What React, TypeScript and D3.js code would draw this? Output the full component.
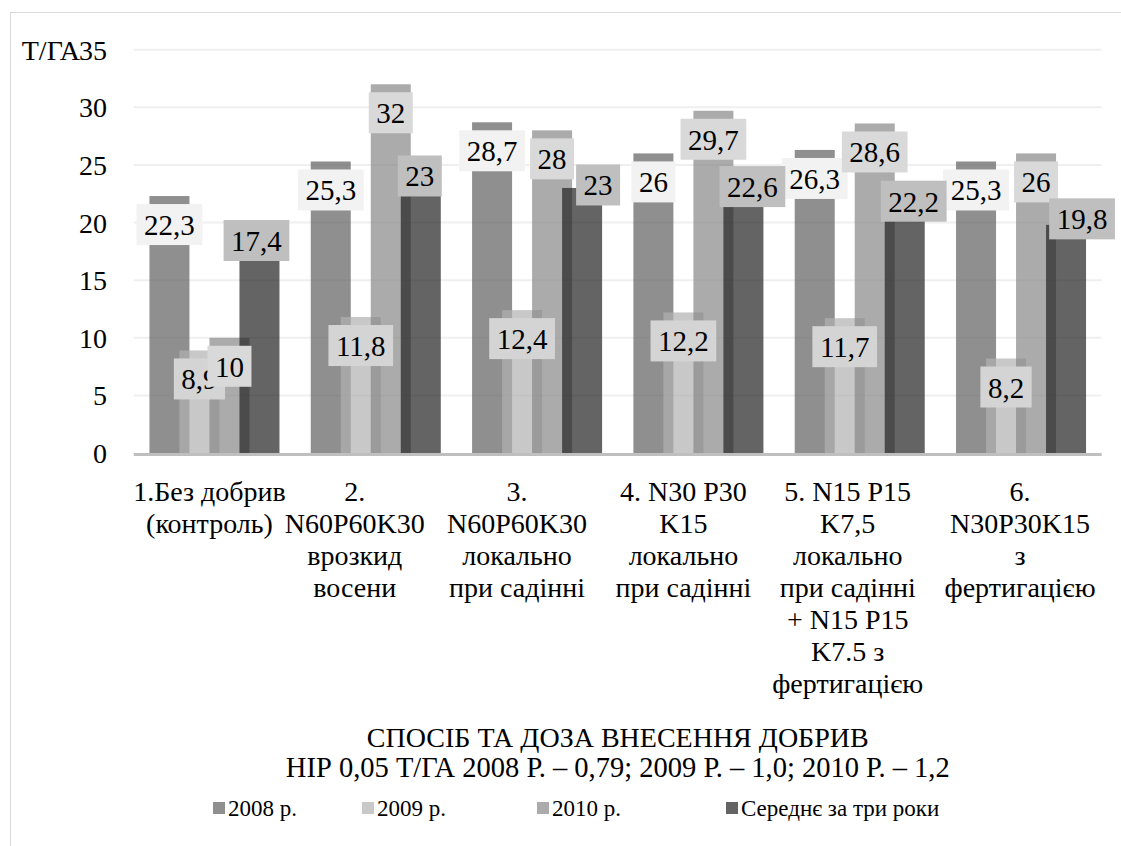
import React from 'react';
import * as d3 from 'd3';

const categories = [
  ['1.Без добрив', '(контроль)'],
  ['2.', 'N60P60K30', 'врозкид', 'восени'],
  ['3.', 'N60P60K30', 'локально', 'при садінні'],
  ['4. N30 P30', 'K15', 'локально', 'при садінні'],
  ['5. N15 P15', 'K7,5', 'локально', 'при садінні', '+ N15 P15', 'K7.5 з', 'фертигацією'],
  ['6.', 'N30P30K15', 'з', 'фертигацією'],
];

const seriesNames = ['2008 р.', '2009 р.', '2010 р.', 'Середнє за три роки'];
const y2008 = [22.3, 25.3, 28.7, 26, 26.3, 25.3];
const y2009 = [8.9, 11.8, 12.4, 12.2, 11.7, 8.2];
const y2010 = [10, 32, 28, 29.7, 28.6, 26];
const yAvg = [17.4, 23, 23, 22.6, 22.2, 19.8];
const yTicks = [0, 5, 10, 15, 20, 25, 30, 35];

const seriesValues = [y2008, y2009, y2010, yAvg];
// bars are drawn semi-transparent, so where they overlap a darker strip shows
const barColors = ['#5f5f5f', '#b0b0b0', '#888888', '#222222'];
const labelFills = ['#f2f2f2', '#d4d4d4', '#d9d9d9', '#bfbfbf'];
// category labels in the source sit a bit left of the band centres
const catShift = [-5, -21, -20, -15, -12, -1];
// the average labels were dragged by hand in the source (px nudges)
const avgNudgeX = [-3, -1, 16, 9, 9, 16];
const avgNudgeY = [-12, -12, -3, -6, 4, -6];
const legendX = [213, 362, 537, 726];

const FONT = 'Liberation Serif';

const measure = (() => {
  const ctx = document.createElement('canvas').getContext('2d');
  return (s: string, size: number) => {
    if (!ctx) return s.length * size * 0.5;
    ctx.font = `${size}px "Liberation Serif"`;
    return ctx.measureText(s).width;
  };
})();

const fmt = (v: number) => String(v).replace('.', ',');

const App = () => {
  const width = 1121;
  const height = 846;
  const x0 = 133.8;
  const x1 = 1101.7;

  const x = d3
    .scaleBand<number>()
    .domain(categories.map((_, i) => i))
    .range([x0, x1])
    .padding(0);
  const y = d3.scaleLinear().domain([0, 35]).range([453, 49.7]);

  const barW = x.bandwidth() * 0.248;
  const step = barW * 0.75;
  const groupW = step * 3 + barW;

  const barX = (c: number, s: number) =>
    (x(c) as number) + x.bandwidth() / 2 - groupW / 2 + s * step;

  const labelSize = 29;
  const boxH = 41;

  return (
    <div style={{ position: 'fixed', left: 0, top: 0, width, height, background: '#fff' }}>
      <svg width={width} height={height}>
        <rect x={10.5} y={12.5} width={1300} height={1000} fill="none" stroke="#d9d9d9" />

        {yTicks.slice(1).map((t) => (
          <line key={t} x1={x0} x2={x1} y1={y(t)} y2={y(t)} stroke="#efefef" strokeWidth={2} />
        ))}

        {yTicks.map((t) => (
          <text key={t} x={107} y={y(t) + 10} textAnchor="end" fontSize={28} fontFamily={FONT} fill="#000">
            {t}
          </text>
        ))}
        <text x={80} y={y(35) + 10} textAnchor="end" fontSize={28} fontFamily={FONT} fill="#000">
          Т/ГА
        </text>

        {seriesValues.map((vals, s) => (
          <g key={s}>
            {vals.map((v, c) => (
              <rect
                key={c}
                x={barX(c, s)}
                y={y(v)}
                width={barW}
                height={y(0) - y(v)}
                fill={barColors[s]}
                fillOpacity={0.7}
              />
            ))}
          </g>
        ))}

        <rect x={x0} y={y(0)} width={x1 - x0} height={3} fill="#bfbfbf" />

        {seriesValues.map((vals, s) => (
          <g key={s}>
            {vals.map((v, c) => {
              const txt = fmt(v);
              const w = measure(txt, labelSize) + 15;
              let cx = barX(c, s) + barW / 2;
              let top = y(v) + 8;
              if (s === 3) {
                cx += avgNudgeX[c];
                top = y(v) - boxH / 2 + avgNudgeY[c];
              }
              return (
                <g key={c}>
                  <rect x={cx - w / 2} y={top} width={w} height={boxH} fill={labelFills[s]} />
                  <text
                    x={cx}
                    y={top + 31}
                    textAnchor="middle"
                    fontSize={labelSize}
                    fontFamily={FONT}
                    fill="#000"
                  >
                    {txt}
                  </text>
                </g>
              );
            })}
          </g>
        ))}

        {categories.map((lines, c) => {
          const cx = (x(c) as number) + x.bandwidth() / 2 + catShift[c];
          return (
            <text key={c} x={cx} y={501} textAnchor="middle" fontSize={28} fontFamily={FONT} fill="#000">
              {lines.map((ln, i) => (
                <tspan key={i} x={cx} dy={i === 0 ? 0 : 32}>
                  {ln}
                </tspan>
              ))}
            </text>
          );
        })}

        <text x={(x0 + x1) / 2} y={747} textAnchor="middle" fontSize={28} fontFamily={FONT} fill="#000">
          СПОСІБ ТА ДОЗА ВНЕСЕННЯ ДОБРИВ
        </text>
        <text x={(x0 + x1) / 2} y={777} textAnchor="middle" fontSize={28.5} fontFamily={FONT} fill="#000">
          НІР 0,05 Т/ГА 2008 Р. – 0,79; 2009 Р. – 1,0; 2010 Р. – 1,2
        </text>

        {seriesNames.map((name, s) => (
          <g key={name} transform={`translate(${legendX[s]}, 802)`}>
            <rect width={12} height={12} fill={barColors[s]} fillOpacity={0.7} />
            <text x={15} y={14} fontSize={23} fontFamily={FONT} fill="#000">
              {name}
            </text>
          </g>
        ))}
      </svg>
    </div>
  );
};

export default App;
